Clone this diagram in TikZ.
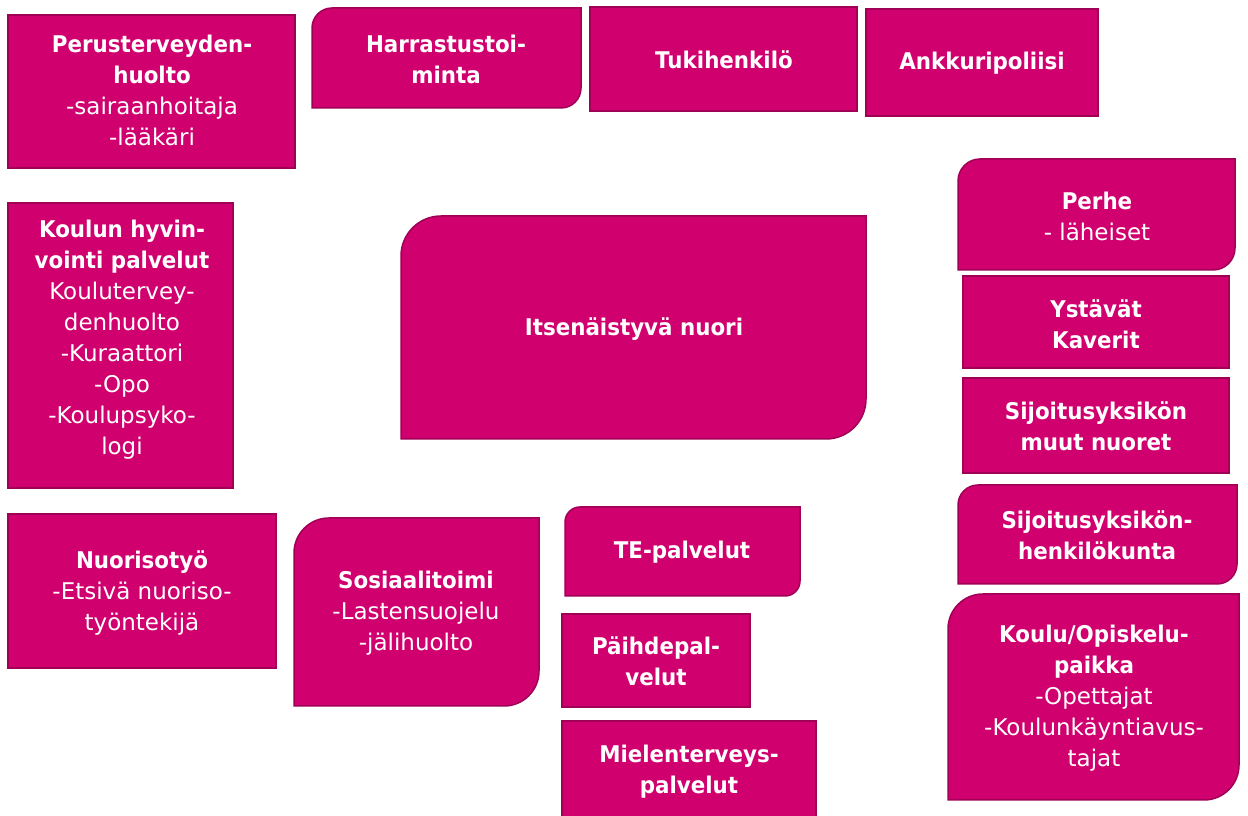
\documentclass[tikz,border=0pt]{standalone}
\usepackage{fontspec}
\setmainfont{DejaVu Sans}[BoldFeatures={FakeStretch=0.93}]
\usepackage{tikz}
\usetikzlibrary{positioning}

\definecolor{boxfill}{RGB}{208,0,111}
\definecolor{boxline}{RGB}{160,0,85}

\tikzset{
    box/.style={fill=boxfill, draw=boxline, line width=1.5pt},
    lbl/.style={text=white, align=center, font=\fontsize{23}{31}\selectfont},
}

% box with rounded top left and bottom right corner: x1, bottom, x2, top, radius
\newcommand{\tlbrbox}[5]{%
    \draw[box] (#1,#2) -- (#1,#4-#5) arc[start angle=180, end angle=90, radius=#5pt]
        -- (#3,#4) -- (#3,#2+#5) arc[start angle=0, end angle=-90, radius=#5pt] -- cycle;}

\begin{document}
\begin{tikzpicture}[x=1pt, y=1pt]
    \useasboundingbox (0,0) rectangle (1248,816);
    \clip (0,0) rectangle (1248,816); % bottom box runs off the page
    \fill[white] (0,0) rectangle (1248,816);

    % left column
    \draw[box] (8,648) rectangle (295,801);
    \draw[box] (8,328) rectangle (233,613);
    \draw[box] (8,148) rectangle (276,302);

    % top row
    \tlbrbox{312}{708}{581}{808}{20}
    \draw[box] (590,705) rectangle (857,809);
    \draw[box] (866,700) rectangle (1098,807);

    % centre and bottom middle
    \tlbrbox{401}{377}{866}{600}{40}
    \tlbrbox{294}{110}{539}{298}{35}
    \tlbrbox{565}{220}{800}{309}{15}
    \draw[box] (562,109) rectangle (750,202);
    \draw[box] (562,-10) rectangle (816,95);

    % right column
    \tlbrbox{958}{546}{1235}{657}{22}
    \draw[box] (963,448) rectangle (1229,540);
    \draw[box] (963,343) rectangle (1229,438);
    \tlbrbox{958}{232}{1237}{331}{20}
    \tlbrbox{948}{16}{1239}{222}{35}

    % labels
    \node[lbl] (peru) at (152,726) {\textbf{Perusterveyden-}\\\textbf{huolto}\\-sairaanhoitaja\\-lääkäri};
    \node[lbl] (harr) at (446,757) {\textbf{Harrastustoi-}\\\textbf{minta}};
    \node[lbl] (tuki) at (724,756) {\textbf{Tukihenkilö}};
    \node[lbl] (ankk) at (982,753) {\textbf{Ankkuripoliisi}};
    \node[lbl] (koulhyv) at (122,476) {\textbf{Koulun hyvin-}\\\textbf{vointi palvelut}\\Koulutervey-\\denhuolto\\-Kuraattori\\-Opo\\-Koulupsyko-\\logi};
    \node[lbl] (nuori) at (634,487) {\textbf{Itsenäistyvä nuori}};
    \node[lbl] (perhe) at (1097,600) {\textbf{Perhe}\\- läheiset};
    \node[lbl] (ystav) at (1096,492) {\textbf{Ystävät}\\\textbf{Kaverit}};
    \node[lbl] (muut) at (1096,390) {\textbf{Sijoitusyksikön}\\\textbf{muut nuoret}};
    \node[lbl] (henk) at (1097,281) {\textbf{Sijoitusyksikön-}\\\textbf{henkilökunta}};
    \node[lbl] (koulu) at (1094,118) {\textbf{Koulu/Opiskelu-}\\\textbf{paikka}\\-Opettajat\\-Koulunkäyntiavus-\\tajat};
    \node[lbl] (nuoriso) at (142,223) {\textbf{Nuorisotyö}\\-Etsivä nuoriso-\\työntekijä};
    \node[lbl] (sosi) at (416,203) {\textbf{Sosiaalitoimi}\\-Lastensuojelu\\-jälihuolto};
    \node[lbl] (te) at (682,264) {\textbf{TE-palvelut}};
    \node[lbl] (paih) at (656,155) {\textbf{Päihdepal-}\\\textbf{velut}};
    \node[lbl] (miel) at (689,44) {\textbf{Mielenterveys-}\\\textbf{palvelut}};
\end{tikzpicture}
\end{document}
